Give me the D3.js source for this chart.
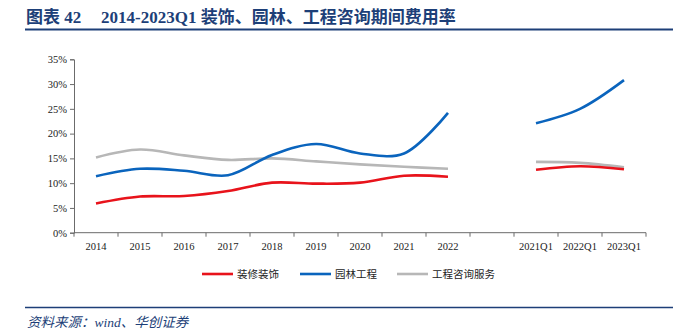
<!DOCTYPE html>
<html><head><meta charset="utf-8">
<script src="https://cdn.jsdelivr.net/npm/d3@7"></script>
<style>
html,body{margin:0;padding:0;background:#fff;}
svg{display:block;}
</style></head>
<body>
<svg id="c" width="673" height="334"></svg>
<script>
const categories = ["2014","2015","2016","2017","2018","2019","2020","2021","2022","","2021Q1","2022Q1","2023Q1"];
const seriesNames = ["装修装饰","园林工程","工程咨询服务"];
const seriesColors = ["#e8131b","#0a64bd","#b7b7b7"];
// values in %, null = gap
const decoration = [5.9,7.3,7.4,8.4,10.1,9.9,10.1,11.5,11.3,null,12.7,13.4,12.8];
const landscape  = [11.4,12.9,12.5,11.6,15.7,17.9,16.0,16.0,24.2,null,22.1,25.0,30.8];
const consulting = [15.2,16.8,15.6,14.7,15.0,14.4,13.8,13.3,12.9,null,14.3,14.1,13.2];
const yTicks = [0,5,10,15,20,25,30,35];
const titleParts = ["图表 42", "2014-2023Q1 装饰、园林、工程咨询期间费用率"];
const sourceText = "资料来源：wind、华创证券";

const svg = d3.select("#c");
const navy = "#1d3f78";

// title
const title = svg.append("text").attr("x",26).attr("y",23)
  .attr("font-family","'Liberation Serif','Noto Sans CJK SC',serif")
  .attr("font-weight","bold").attr("font-size",17).attr("fill",navy);
title.append("tspan").attr("x",26).text(titleParts[0]);
title.append("tspan").attr("x",101).text(titleParts[1]);
svg.append("line").attr("x1",25).attr("x2",673).attr("y1",29.5).attr("y2",29.5)
  .attr("stroke",navy).attr("stroke-width",2);

const x = d3.scaleBand().domain(categories.map((d,i)=>i)).range([74,646]).padding(0);
const y = d3.scaleLinear().domain([0,35]).range([232.7,59.3]);

const axisColor = "#6b6b6b";
// y axis
const yAxis = d3.axisLeft(y).tickValues(yTicks).tickFormat(d=>d+"%").tickSize(4).tickPadding(3);
const gy = svg.append("g").attr("transform","translate(74,0)").call(yAxis);
gy.select(".domain").attr("stroke",axisColor);
gy.selectAll(".tick line").attr("stroke",axisColor);
gy.selectAll("text").attr("font-family","'Liberation Serif',serif").attr("font-size",10.5).attr("fill","#222");

// x axis
const gx = svg.append("g").attr("transform","translate(0,"+y(0)+")");
gx.append("line").attr("x1",74).attr("x2",646).attr("y1",0).attr("y2",0).attr("stroke",axisColor);
const bounds = d3.range(categories.length+1).map(i=> i<categories.length ? x(i) : x(categories.length-1)+x.bandwidth());
gx.selectAll("line.tk").data(bounds).enter().append("line").attr("class","tk")
  .attr("x1",d=>d).attr("x2",d=>d).attr("y1",0).attr("y2",4).attr("stroke",axisColor);
gx.selectAll("text").data(categories).enter().append("text")
  .attr("x",(d,i)=>x(i)+x.bandwidth()/2).attr("y",17)
  .attr("text-anchor","middle").attr("font-family","'Liberation Serif',serif")
  .attr("font-size",10.5).attr("fill","#222").text(d=>d);

const line = d3.line().defined(d=>d[1]!=null)
  .x(d=>x(d[0])+x.bandwidth()/2).y(d=>y(d[1]))
  .curve(d3.curveCatmullRom.alpha(0.5));
[consulting, decoration, landscape].forEach((vals)=>{
  const idx = vals===decoration?0:vals===landscape?1:2;
  svg.append("path").datum(vals.map((v,i)=>[i,v]))
    .attr("d",line).attr("fill","none").attr("stroke",seriesColors[idx])
    .attr("stroke-width",2.6).attr("stroke-linecap","butt");
});

// legend
const legX = [202,300,397];
seriesNames.forEach((n,i)=>{
  const g = svg.append("g");
  g.append("line").attr("x1",legX[i]).attr("x2",legX[i]+31).attr("y1",274).attr("y2",274)
    .attr("stroke",seriesColors[i]).attr("stroke-width",2.6);
  g.append("text").attr("x",legX[i]+35).attr("y",278).attr("font-size",10.5)
    .attr("font-family","'Noto Sans CJK SC',sans-serif").attr("fill","#222").text(n);
});

// bottom line & source
svg.append("line").attr("x1",25).attr("x2",673).attr("y1",307.5).attr("y2",307.5)
  .attr("stroke",navy).attr("stroke-width",1.5);
svg.append("text").attr("x",27).attr("y",327).attr("font-size",13.5).attr("font-style","italic")
  .attr("font-family","'Liberation Serif','Noto Sans CJK SC',serif").attr("fill",navy).text(sourceText);
</script>
</body></html>
